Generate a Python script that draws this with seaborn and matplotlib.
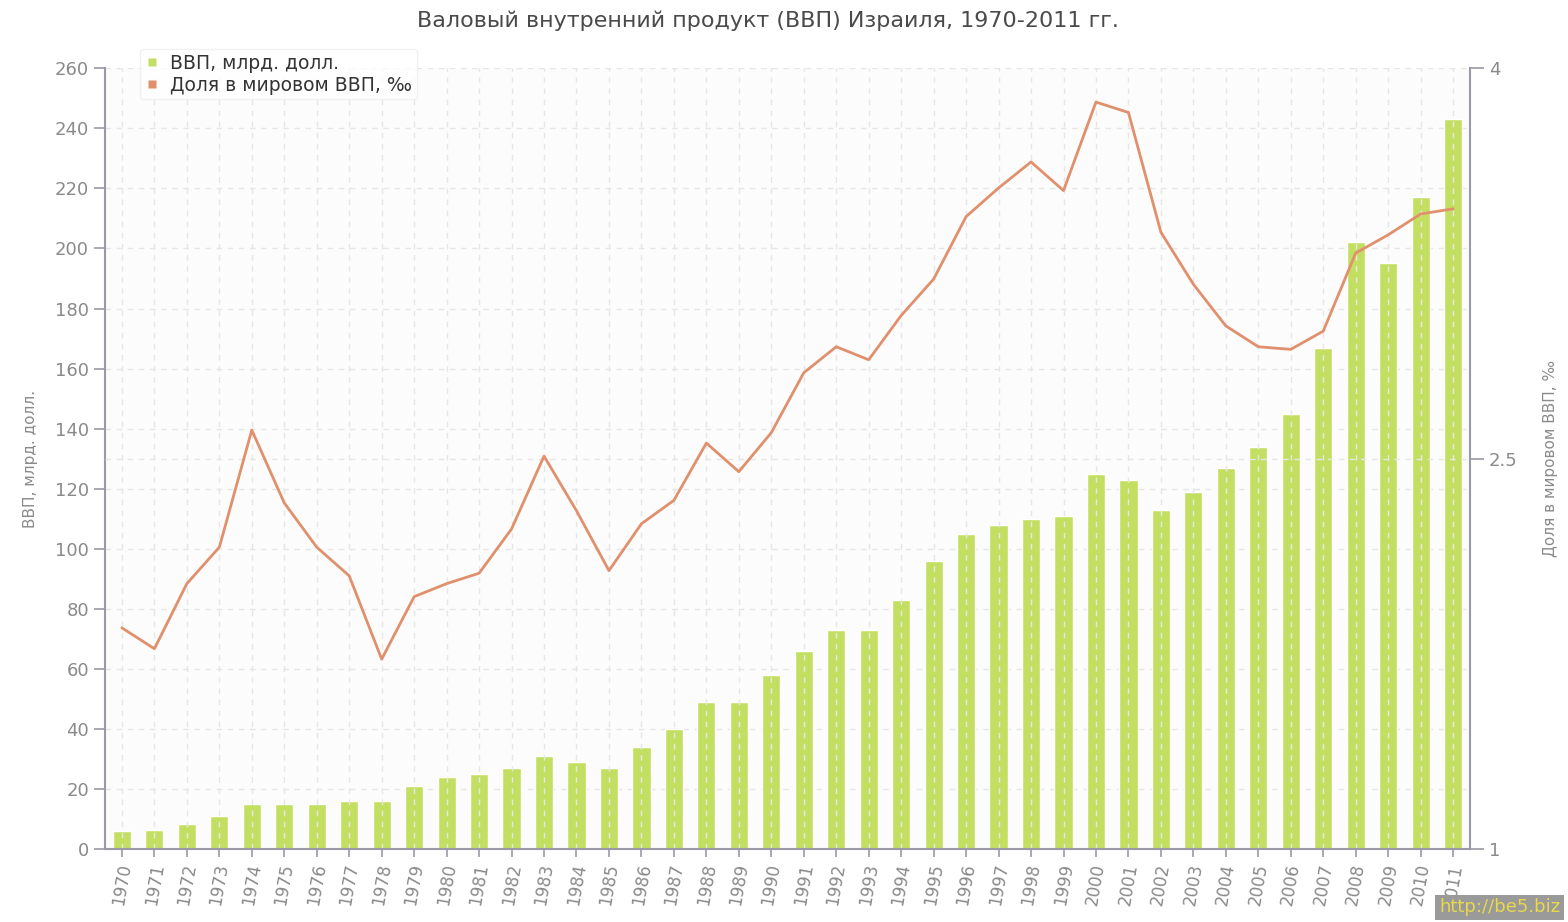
import numpy as np
import pandas as pd
import matplotlib
matplotlib.use('Agg')
import matplotlib.pyplot as plt
import seaborn as sns
from matplotlib.lines import Line2D

# data
years = [str(y) for y in range(1970, 2012)]
gdp = [6, 6.5, 8.5, 11, 15, 15, 15, 16, 16, 21,
       24, 25, 27, 31, 29, 27, 34, 40, 49, 49,
       58, 66, 73, 73, 83, 96, 105, 108, 110, 111,
       125, 123, 113, 119, 127, 134, 145, 167, 202, 195,
       217, 243]
share = [1.85, 1.77, 2.02, 2.16, 2.61, 2.33, 2.16, 2.05, 1.73, 1.97,
         2.02, 2.06, 2.23, 2.51, 2.30, 2.07, 2.25, 2.34, 2.56, 2.45,
         2.60, 2.83, 2.93, 2.88, 3.05, 3.19, 3.43, 3.54, 3.64, 3.53,
         3.87, 3.83, 3.37, 3.17, 3.01, 2.93, 2.92, 2.99, 3.29, 3.36,
         3.44, 3.46]

title = 'Валовый внутренний продукт (ВВП) Израиля, 1970-2011 гг.'
left_label = 'ВВП, млрд. долл.'
right_label = 'Доля в мировом ВВП, ‰'

green = '#c3df62'
orange = '#e0906c'
grey_txt = '#8a8a8a'
axis_col = '#9a9aa6'

df = pd.DataFrame({'year': years, 'gdp': gdp, 'share': share})

sns.set_style('white')
plt.rcParams['font.family'] = ['DejaVu Sans']

fig = plt.figure(figsize=(15.68, 9.22), dpi=100)
ax = fig.add_axes([0.067, 0.079, 0.8705, 0.847])
ax.set_facecolor('#fcfcfc')

sns.barplot(data=df, x='year', y='gdp', color=green, width=0.56,
            saturation=1, ax=ax, zorder=2)

ax.set_xlim(-0.52, len(years) - 0.48)
ax.set_ylim(0, 260)
ax.set_yticks(np.arange(0, 261, 20))
ax.set_ylabel(left_label, color=grey_txt, fontsize=11, labelpad=12)
ax.set_xlabel('')
ax.tick_params(axis='x', colors=axis_col, labelcolor=grey_txt, labelsize=12,
               labelrotation=80, length=6, width=1.2, direction='out', bottom=True)
ax.tick_params(axis='y', colors=axis_col, labelcolor=grey_txt, labelsize=13,
               length=8, width=1.2, direction='out', left=True)
for lab in ax.get_xticklabels():
    lab.set_ha('center')
ax.grid(True, axis='both', color='#e6e6e6', linestyle=(0, (4, 4)), linewidth=1.0)
# horizontal grid behind the bars, vertical grid over them
ax.set_axisbelow(True)
ax.xaxis.set_zorder(2.5)
for s in ['top']:
    ax.spines[s].set_visible(False)
for s in ['left', 'bottom', 'right']:
    ax.spines[s].set_color(axis_col)
    ax.spines[s].set_linewidth(1.5)
    ax.spines[s].set_zorder(3)

ax2 = ax.twinx()
sns.lineplot(x=np.arange(len(years)), y=df['share'], color=orange, linewidth=2,
             ax=ax2, zorder=4)
ax2.set_ylim(1, 4)
ax2.set_yticks([1, 2.5, 4])
ax2.set_yticklabels(['1', '2.5', '4'])
ax2.set_ylabel(right_label, color=grey_txt, fontsize=11, labelpad=18)
ax2.tick_params(axis='y', colors=axis_col, labelcolor=grey_txt, labelsize=13,
                length=10, width=1.2, direction='out', right=True)
ax2.axhline(2.5, color='#e6e6e6', linestyle=(0, (4, 4)), linewidth=1.0, zorder=1)
ax2.set_xlim(ax.get_xlim())
for s in ['top', 'left', 'bottom', 'right']:
    ax2.spines[s].set_visible(False)

fig.text(0.49, 0.977, title, ha='center', va='center', fontsize=16, color='#4a4a4a')

handles = [Line2D([], [], marker='s', color='none', markerfacecolor=green,
                  markeredgecolor='none', markersize=6),
           Line2D([], [], marker='s', color='none', markerfacecolor=orange,
                  markeredgecolor='none', markersize=6)]
leg = fig.legend(handles, ['ВВП, млрд. долл.', 'Доля в мировом ВВП, ‰'],
                 loc='upper left', bbox_to_anchor=(0.083, 0.957), frameon=True,
                 fontsize=13.5, handlelength=0.8, handletextpad=0.6,
                 labelspacing=0.15, borderpad=0.25, fancybox=True, shadow=False)
leg.get_frame().set_edgecolor('#eeeeee')
leg.get_frame().set_facecolor('white')
for t in leg.get_texts():
    t.set_color('#333333')

fig.text(0.995, 0.006, 'http://be5.biz', ha='right', va='bottom', fontsize=13,
         color='#e8d84a',
         bbox=dict(boxstyle='square,pad=0.2', facecolor='#9a9a9a', edgecolor='none'))

fig.savefig('out.png', dpi=100)
